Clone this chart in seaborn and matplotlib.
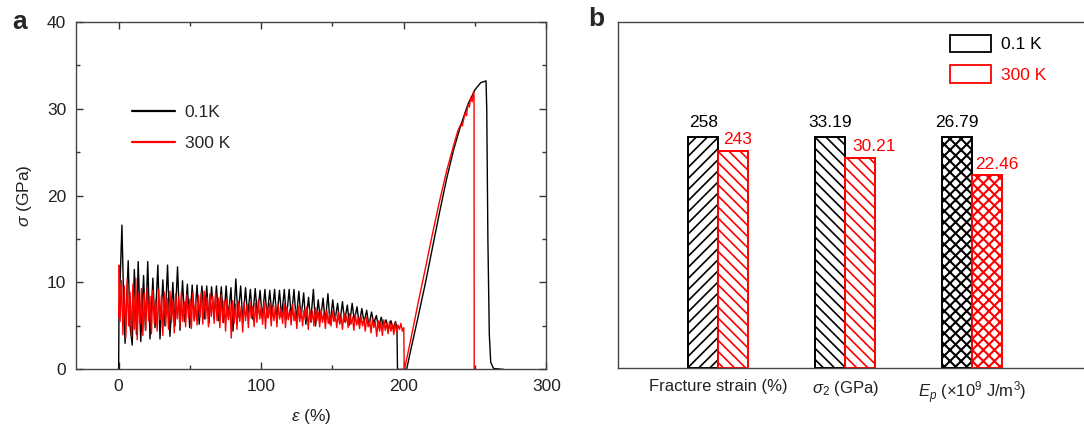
import numpy as np
import pandas as pd
import matplotlib
matplotlib.use("Agg")
import matplotlib.pyplot as plt
import seaborn as sns
from matplotlib.patches import Patch
from matplotlib.lines import Line2D

# ---- panel a: stress-strain curves ----
# 0.1 K, serrated flow region (peak / valley pairs)
black_x_flow = [0.0, 0.2, 2.3, 3.5, 4.5, 6.7, 8.0, 9.5, 11.0, 12.5, 13.7, 15.5, 17.5, 18.8,
                20.4, 22.0, 24.0, 25.5, 27.5, 29.0, 31.0, 32.5, 34.3, 36.0, 38.0, 39.5, 41.3,
                43.0, 44.8, 46.3, 48.2, 49.8, 51.6, 53.1, 55.0, 56.5, 58.4, 60.0, 61.8, 63.3,
                65.2, 66.8, 68.6, 70.1, 72.0, 73.6, 75.4, 76.9, 78.8, 80.2, 82.2, 83.7, 85.6,
                87.1, 89.0, 90.5, 92.4, 93.9, 95.8, 97.3, 99.2, 100.7, 102.6, 104.1, 106.0,
                107.5, 109.4, 110.9, 112.8, 114.3, 116.2, 117.7, 119.6, 121.1, 123.0, 124.5,
                126.4, 127.9, 129.8, 131.3, 133.2, 134.7, 136.6, 138.1, 140.0, 141.5, 143.4,
                144.9, 146.8, 148.3, 150.2, 151.7, 153.6, 155.1, 157.0, 158.5, 160.4, 161.9,
                163.8, 165.3, 167.2, 168.7, 170.6, 172.1, 174.0, 175.5, 177.4, 178.9, 180.8,
                182.3, 184.2, 185.7, 187.6, 189.1, 191.0, 192.5, 194.2, 195.2, 195.6]
black_y_flow = [0.0, 6.0, 16.6, 8.0, 3.0, 12.5, 5.0, 2.8, 11.5, 4.0, 12.4, 3.2, 10.8, 4.5,
                12.4, 3.5, 10.5, 4.8, 12.0, 3.5, 10.3, 5.0, 12.0, 3.8, 10.0, 5.0, 11.8,
                4.5, 10.2, 5.5, 9.8, 4.8, 9.7, 5.6, 9.7, 5.2, 9.6, 5.8, 9.6, 5.3,
                9.5, 5.9, 9.6, 5.6, 9.5, 5.4, 9.6, 6.0, 9.4, 4.4, 10.4, 6.0, 9.6,
                5.5, 9.4, 6.1, 9.2, 5.8, 9.3, 6.2, 9.1, 5.9, 9.2, 6.0, 9.1,
                6.2, 9.2, 5.7, 9.1, 6.1, 9.2, 5.8, 9.2, 6.0, 9.2, 5.6,
                9.0, 5.9, 8.8, 5.2, 8.3, 5.5, 9.2, 5.0, 8.0, 5.6, 8.2,
                5.4, 8.7, 5.2, 8.0, 5.6, 7.6, 5.3, 7.8, 5.5, 7.4, 5.1,
                7.6, 5.6, 7.2, 5.2, 7.0, 5.4, 6.8, 5.0, 6.6, 5.3, 6.2,
                4.8, 6.0, 4.9, 5.7, 4.6, 5.6, 4.7, 5.5, 4.8, 0.0]
# 0.1 K, second loading up to fracture
black_x_rise = [202.0, 205.0, 210.0, 215.0, 220.0, 225.0, 230.0, 235.0, 240.0, 245.0,
                250.0, 254.0, 257.7, 258.2, 259.0, 260.0, 261.0, 263.0, 270.0]
black_y_rise = [0.0, 2.3, 6.0, 9.8, 13.9, 18.0, 21.9, 25.3, 28.1, 30.5,
                32.2, 33.0, 33.2, 30.0, 15.0, 4.0, 0.8, 0.1, 0.0]

# 300 K, serrated flow region (one reading per 1 % strain)
red_x_flow = [0.0, 0.4,
              1, 2, 3, 4, 5, 6, 7, 8, 9, 10, 11, 12, 13, 14, 15, 16, 17, 18, 19, 20,
              21, 22, 23, 24, 25, 26, 27, 28, 29, 30, 31, 32, 33, 34, 35, 36, 37, 38, 39, 40,
              41, 42, 43, 44, 45, 46, 47, 48, 49, 50, 51, 52, 53, 54, 55, 56, 57, 58, 59, 60,
              61, 62, 63, 64, 65, 66, 67, 68, 69, 70, 71, 72, 73, 74, 75, 76, 77, 78, 79, 80,
              81, 82, 83, 84, 85, 86, 87, 88, 89, 90, 91, 92, 93, 94, 95, 96, 97, 98, 99, 100,
              101, 102, 103, 104, 105, 106, 107, 108, 109, 110, 111, 112, 113, 114, 115, 116,
              117, 118, 119, 120, 121, 122, 123, 124, 125, 126, 127, 128, 129, 130, 131, 132,
              133, 134, 135, 136, 137, 138, 139, 140, 141, 142, 143, 144, 145, 146, 147, 148,
              149, 150, 151, 152, 153, 154, 155, 156, 157, 158, 159, 160, 161, 162, 163, 164,
              165, 166, 167, 168, 169, 170, 171, 172, 173, 174, 175, 176, 177, 178, 179, 180,
              181, 182, 183, 184, 185, 186, 187, 188, 189, 190, 191, 192, 193, 194, 195, 196,
              197, 198, 199, 200, 200.3]
red_y_flow = [6.0, 12.0,
              5.5, 10.2, 4.0, 9.6, 3.6, 10.4, 5.0, 8.9, 3.8, 9.8,
              4.6, 10.5, 3.4, 8.6, 5.2, 9.3, 3.9, 8.8, 4.5, 9.4,
              5.6, 8.4, 4.1, 9.1, 5.3, 8.0, 4.4, 9.2, 5.7, 8.5,
              3.9, 8.9, 5.0, 8.2, 4.6, 9.0, 5.4, 7.9, 4.2, 8.7,
              5.8, 8.3, 4.8, 8.9, 5.5, 7.8, 4.9, 8.6, 5.9, 8.1,
              4.7, 8.8, 5.6, 8.0, 5.1, 8.5, 6.0, 8.9, 5.2, 9.0,
              5.8, 8.3, 4.9, 8.7, 6.1, 8.4, 5.3, 8.9, 5.6, 8.2,
              4.8, 8.6, 5.4, 7.9, 4.4, 8.1, 5.7, 7.6, 3.6, 7.9,
              5.3, 7.5, 4.6, 7.8, 5.5, 7.3, 4.3, 7.7, 5.6, 7.4,
              4.8, 7.8, 5.9, 7.2, 4.9, 7.6, 5.4, 8.0, 5.8, 7.3,
              5.2, 7.7, 4.7, 7.2, 5.9, 7.6, 5.0, 7.1, 5.6, 7.5,
              4.9, 7.4, 5.8, 7.0, 5.3, 7.6, 4.8, 7.2, 5.7, 6.9,
              5.1, 7.5, 5.6, 6.9, 4.7, 7.3, 5.5, 7.0, 5.0, 6.8,
              5.7, 7.2, 4.6, 6.9, 5.4, 6.7, 5.0, 7.1, 5.6, 6.6,
              4.9, 6.9, 5.4, 6.5, 4.7, 6.8, 5.3, 6.4, 5.0, 6.7,
              5.5, 6.3, 4.8, 6.6, 5.2, 6.2, 4.6, 6.5, 5.4, 6.1,
              4.8, 6.4, 5.2, 6.0, 4.5, 6.3, 5.1, 5.9, 4.7, 6.1,
              5.0, 5.8, 4.4, 6.0, 4.9, 5.7, 4.2, 5.8, 4.8, 5.5,
              3.8, 5.6, 4.4, 5.4, 3.9, 5.7, 4.5, 5.3, 4.1, 5.5,
              4.4, 5.2, 4.0, 5.4, 4.3, 5.1, 4.6, 5.3, 4.4, 4.8, 0.0]
# 300 K, second loading up to fracture
red_x_rise = [200.5, 205.0, 210.0, 215.0, 220.0, 225.0, 230.0, 235.0, 238.0, 240.0, 241.0,
              243.0, 244.0, 245.0, 246.0, 247.0, 248.0, 249.0, 249.3, 249.4]
red_y_rise = [0.0, 3.5, 7.6, 11.5, 15.5, 19.3, 22.8, 25.8, 27.5, 28.2, 28.0,
              29.5, 29.2, 30.5, 30.2, 31.3, 30.8, 32.0, 31.5, 0.0]

# ---- panel b: properties ----
properties = ["Fracture strain (%)", r"$\sigma_2$ (GPa)", r"$E_p$ (×10$^9$ J/m$^3$)"]
values_01K = [258, 33.19, 26.79]
values_300K = [243, 30.21, 22.46]
value_labels_01K = ["258", "33.19", "26.79"]
value_labels_300K = ["243", "30.21", "22.46"]

RED = "#ff0000"

sns.set_theme(style="white")
plt.rcParams['font.family'] = ['Liberation Sans', 'DejaVu Sans']
plt.rcParams['mathtext.fontset'] = 'custom'
plt.rcParams['mathtext.rm'] = 'Liberation Sans'
plt.rcParams['mathtext.it'] = 'Liberation Sans:italic'
plt.rcParams['mathtext.bf'] = 'Liberation Sans:bold'
plt.rcParams['hatch.linewidth'] = 1.2

fig = plt.figure(figsize=(10.84, 4.28), dpi=100)
ax1 = fig.add_axes([0.070, 0.137, 0.434, 0.812])
ax2 = fig.add_axes([0.570, 0.140, 0.431, 0.809])

# panel a
bx = black_x_flow + black_x_rise
by = black_y_flow + black_y_rise
rx = red_x_flow + red_x_rise
ry = red_y_flow + red_y_rise
sns.lineplot(x=bx, y=by, sort=False, estimator=None, color="black", lw=1.0, ax=ax1)
sns.lineplot(x=rx, y=ry, sort=False, estimator=None, color=RED, lw=1.0, ax=ax1)

ax1.set_xlim(-30, 300)
ax1.set_ylim(0, 40)
ax1.set_xticks([0, 100, 200, 300])
ax1.set_xticks([50, 150, 250], minor=True)
ax1.set_yticks([0, 10, 20, 30, 40])
ax1.set_yticks([5, 15, 25, 35], minor=True)
ax1.tick_params(which="both", direction="in", top=True, right=True, bottom=True, left=True,
                colors="#333333", labelcolor="#222222", labelsize=12.5, pad=7)
ax1.tick_params(which="major", length=5, width=1)
ax1.tick_params(which="minor", length=3, width=1)
for s in ax1.spines.values():
    s.set_color("#444444")
    s.set_linewidth(1.0)
ax1.set_xlabel(r"$\varepsilon$ (%)", fontsize=12.5, labelpad=9, color="#222222")
ax1.set_ylabel(r"$\sigma$ (GPa)", fontsize=12.5, labelpad=9, color="#222222")

leg1 = ax1.legend(handles=[Line2D([], [], color="black", lw=1.6),
                           Line2D([], [], color=RED, lw=1.6)],
                  labels=["0.1K", "300 K"], loc="upper left",
                  bbox_to_anchor=(0.119, 0.762), frameon=False, fontsize=12.5,
                  handlelength=2.5, handletextpad=0.55, labelspacing=0.95,
                  borderpad=0, borderaxespad=0)

# panel b
df = pd.DataFrame({
    "property": properties * 2,
    "temp": ["0.1 K"] * 3 + ["300 K"] * 3,
    "rel": [v / v for v in values_01K] + [r / b for r, b in zip(values_300K, values_01K)],
})
sns.barplot(data=df, x="property", y="rel", hue="temp", order=properties,
            hue_order=["0.1 K", "300 K"], width=0.474, legend=False,
            palette=["white", "white"], ax=ax2)

hatches = [["///", "\\\\\\", "xxx"], ["\\\\\\", "\\\\\\", "xxx"]]
edge_colors = ["black", RED]
label_texts = [value_labels_01K, value_labels_300K]
label_offsets = [[(0, 5), (0, 5), (0, 5)], [(3, 2.5), (10, 2.5), (7, 2)]]
for i, cont in enumerate(ax2.containers):
    for j, bar in enumerate(cont.patches):
        bar.set_facecolor("white")
        bar.set_edgecolor(edge_colors[i])
        bar.set_linewidth(1.4)
        bar.set_hatch(hatches[i][j])
        if hatches[i][j] == "xxx" and hasattr(bar, "set_hatch_linewidth"):
            bar.set_hatch_linewidth(1.5)
        xc = bar.get_x() + bar.get_width() / 2
        ax2.annotate(label_texts[i][j], xy=(xc, bar.get_height()),
                     xytext=label_offsets[i][j], textcoords="offset points",
                     ha="center", va="bottom", fontsize=12.5, color=edge_colors[i])

ax2.set_xlim(-0.79, 2.89)
ax2.set_ylim(0, 1.5)
ax2.set_yticks([])
ax2.set_xlabel("")
ax2.set_ylabel("")
ax2.tick_params(axis="x", length=0, pad=8, labelsize=12, labelcolor="#222222")
for s in ax2.spines.values():
    s.set_color("#444444")
    s.set_linewidth(1.0)
ax2.spines["right"].set_visible(False)

leg2 = ax2.legend(handles=[Patch(facecolor="white", edgecolor="black", lw=1.3),
                           Patch(facecolor="white", edgecolor=RED, lw=1.3)],
                  labels=["0.1 K", "300 K"], loc="upper left",
                  bbox_to_anchor=(0.71, 0.963), frameon=False, fontsize=12.5,
                  handlelength=2.4, handleheight=1.2, handletextpad=0.55,
                  labelspacing=0.75, borderpad=0, borderaxespad=0,
                  labelcolor=["black", RED])

fig.text(0.011, 0.948, "a", fontsize=19, fontweight="bold", va="center", ha="left")
fig.text(0.543, 0.955, "b", fontsize=19, fontweight="bold", va="center", ha="left")

fig.savefig("out.png", dpi=100)
